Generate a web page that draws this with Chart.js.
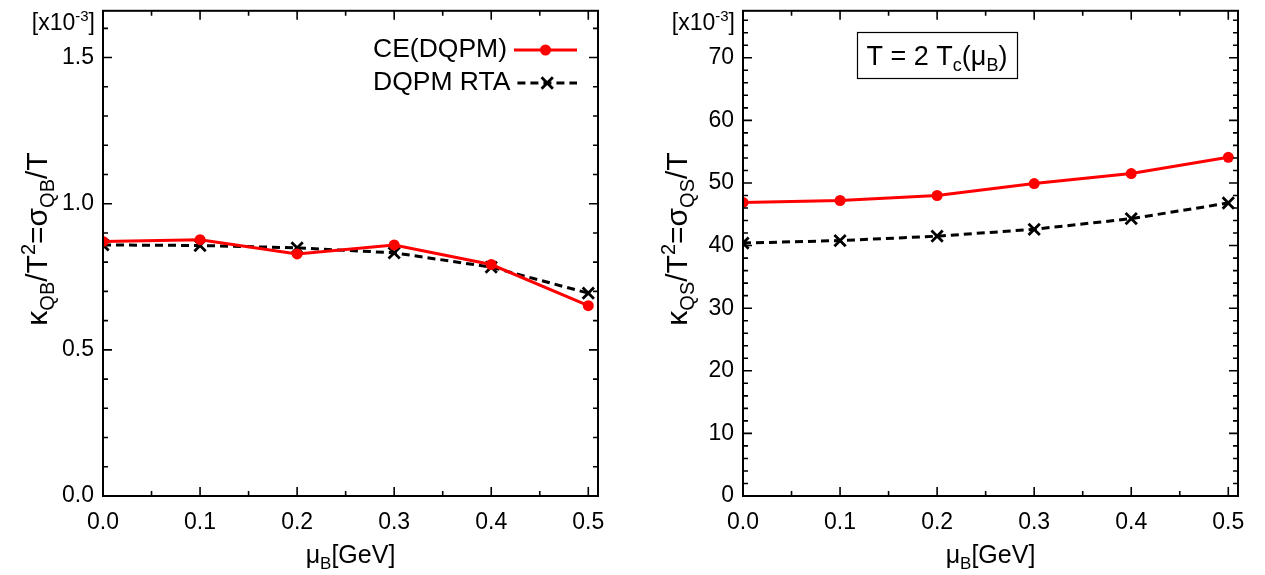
<!DOCTYPE html>
<html>
<head>
<meta charset="utf-8">
<script src="https://cdn.jsdelivr.net/npm/chart.js@4.4.1/dist/chart.umd.min.js"></script>
<style>
html, body { margin: 0; padding: 0; background: #fff; }
#wrap { position: relative; width: 1265px; height: 575px; }
.panel { position: absolute; top: 0; height: 575px; }
</style>
</head>
<body>
<div id="wrap">
  <div class="panel" style="left:0;width:632px"><canvas id="chartQB"></canvas></div>
  <div class="panel" style="left:632px;width:633px"><canvas id="chartQS"></canvas></div>
</div>
<script>
// 数据 (单位 10^-3)
const muB = [0.0, 0.1, 0.2, 0.3, 0.4, 0.5];
const ceQB = [0.871, 0.877, 0.828, 0.859, 0.792, 0.651];
const rtaQB = [0.859, 0.857, 0.849, 0.832, 0.783, 0.694];
const ceQS = [46.9, 47.2, 48.0, 49.9, 51.5, 54.1];
const rtaQS = [40.4, 40.8, 41.5, 42.6, 44.3, 46.8];

// 刻度
const xTicks = [0.0, 0.1, 0.2, 0.3, 0.4, 0.5];
const yTicksQB = [0.0, 0.5, 1.0, 1.5];
const yTicksQS = [0, 10, 20, 30, 40, 50, 60, 70];

const FONT = '"Liberation Sans", Arial, sans-serif';

function fnt(size) {
    return size + 'px ' + FONT;
}

// 画带上下标的文字, parts: [文字, 字号, 垂直偏移]
function drawRich(ctx, parts, x, y, align) {
    let w = 0;
    parts.forEach(p => { ctx.font = fnt(p[1]); w += ctx.measureText(p[0]).width; });
    let cx = align === 'center' ? x - w / 2 : (align === 'right' ? x - w : x);
    ctx.textAlign = 'left';
    ctx.textBaseline = 'alphabetic';
    parts.forEach(p => {
        ctx.font = fnt(p[1]);
        ctx.fillText(p[0], cx, y + (p[2] || 0));
        cx += ctx.measureText(p[0]).width;
    });
    return w;
}

function pairs(xs, ys) {
    return xs.map((x, i) => ({ x: x, y: ys[i] }));
}

// 边框 + 内向刻度 + 标题
const framePlugin = {
    id: 'frame',
    afterDatasetsDraw(chart, args, opts) {
        const ctx = chart.ctx;
        const a = chart.chartArea;
        const xs = chart.scales.x, ys = chart.scales.y;
        ctx.save();
        ctx.strokeStyle = '#000';
        ctx.fillStyle = '#000';
        ctx.lineWidth = 2;
        ctx.strokeRect(a.left, a.top, a.right - a.left, a.bottom - a.top);
        ctx.lineWidth = 1.6;
        ctx.beginPath();
        for (let i = 0; i <= 10; i++) {
            const px = xs.getPixelForValue(i * 0.05);
            const len = i % 2 === 0 ? 9 : 5;
            ctx.moveTo(px, a.bottom); ctx.lineTo(px, a.bottom - len);
            ctx.moveTo(px, a.top); ctx.lineTo(px, a.top + len);
        }
        for (let i = 0; i * opts.minor <= ys.max; i++) {
            const py = ys.getPixelForValue(i * opts.minor);
            const len = i % 5 === 0 ? 9 : 5;
            ctx.moveTo(a.left, py); ctx.lineTo(a.left + len, py);
            ctx.moveTo(a.right, py); ctx.lineTo(a.right - len, py);
        }
        ctx.stroke();

        // [x10^-3]
        drawRich(ctx, [['[x10', 23], ['-3', 15, -9], [']', 23]], a.left - 8, 30, 'right');

        // x 轴标题
        drawRich(ctx, [['\u03bc', 25], ['B', 17, 6], ['[GeV]', 25]], (a.left + a.right) / 2, 563, 'center');

        // y 轴标题
        ctx.save();
        ctx.translate(opts.titleX, 239);
        ctx.rotate(-Math.PI / 2);
        const s = opts.sub;
        drawRich(ctx, [['\u03ba', 30], [s, 20, 7], ['/T', 30], ['2', 20, -12], ['=\u03c3', 30], [s, 20, 7], ['/T', 30]], 0, 0, 'center');
        ctx.restore();
        ctx.restore();
    }
};

// 左图图例
const legendPlugin = {
    id: 'inLegend',
    afterDraw(chart) {
        const ctx = chart.ctx;
        ctx.save();
        const rows = [
            { text: 'CE(DQPM)', y: 50, ds: chart.data.datasets[0] },
            { text: 'DQPM RTA', y: 83, ds: chart.data.datasets[1] }
        ];
        rows.forEach(r => {
            ctx.fillStyle = '#000';
            ctx.font = fnt(26.5);
            ctx.textAlign = 'left';
            ctx.textBaseline = 'middle';
            ctx.fillText(r.text, 373, r.y);
            const x0 = 373 + ctx.measureText(r.text).width + 7;
            const x1 = 577;
            const cx = (x0 + x1) / 2;
            ctx.strokeStyle = r.ds.borderColor;
            ctx.lineWidth = r.ds.borderWidth;
            ctx.setLineDash(r.ds.borderDash || []);
            ctx.beginPath();
            ctx.moveTo(x0, r.y); ctx.lineTo(x1, r.y);
            ctx.stroke();
            ctx.setLineDash([]);
            ctx.fillStyle = r.ds.pointBackgroundColor;
            ctx.strokeStyle = r.ds.pointBorderColor;
            ctx.lineWidth = r.ds.pointBorderWidth;
            ctx.beginPath();
            if (r.ds.pointStyle === 'circle') {
                ctx.arc(cx, r.y, r.ds.pointRadius, 0, Math.PI * 2);
                ctx.fill();
            } else {
                const d = r.ds.pointRadius * Math.SQRT1_2;
                ctx.moveTo(cx - d, r.y - d); ctx.lineTo(cx + d, r.y + d);
                ctx.moveTo(cx - d, r.y + d); ctx.lineTo(cx + d, r.y - d);
                ctx.stroke();
            }
        });
        ctx.restore();
    }
};

// 右图文字框
const boxPlugin = {
    id: 'textBox',
    afterDraw(chart) {
        const ctx = chart.ctx;
        ctx.save();
        ctx.strokeStyle = '#000';
        ctx.lineWidth = 1.2;
        ctx.strokeRect(225.5, 32.5, 160, 46);
        ctx.fillStyle = '#000';
        drawRich(ctx, [['T = 2 T', 27], ['c', 18, 6], ['(\u03bc', 27], ['B', 18, 6], [')', 27]], 305, 65, 'center');
        ctx.restore();
    }
};

function makeChart(id, ce, rta, yTicks, yMax, digits, yWidth, padRight, extra, frameOpts) {
    return new Chart(document.getElementById(id), {
        type: 'line',
        data: {
            datasets: [{
                label: 'CE(DQPM)',
                data: pairs(muB, ce),
                borderColor: '#ff0000',
                backgroundColor: '#ff0000',
                borderWidth: 3,
                pointStyle: 'circle',
                pointRadius: 5.5,
                pointBorderWidth: 0,
                pointBackgroundColor: '#ff0000',
                pointBorderColor: '#ff0000'
            }, {
                label: 'DQPM RTA',
                data: pairs(muB, rta),
                borderColor: '#000000',
                backgroundColor: '#000000',
                borderWidth: 3,
                borderDash: [8, 5],
                pointStyle: 'crossRot',
                pointRadius: 8,
                pointBorderWidth: 2.8,
                pointBackgroundColor: '#000000',
                pointBorderColor: '#000000'
            }]
        },
        options: {
            responsive: true,
            maintainAspectRatio: false,
            animation: false,
            events: [],
            layout: { padding: { left: 0, top: 10, right: padRight, bottom: 0 } },
            plugins: {
                legend: { display: false },
                tooltip: { enabled: false },
                frame: frameOpts
            },
            scales: {
                x: {
                    type: 'linear',
                    min: 0,
                    max: 0.51,
                    grid: { display: false, drawTicks: false },
                    border: { display: false },
                    afterBuildTicks: s => { s.ticks = xTicks.map(v => ({ value: v })); },
                    afterFit: s => { s.height = 79; s.paddingLeft = 0; s.paddingRight = 0; },
                    ticks: {
                        padding: 13,
                        color: '#000',
                        font: { family: FONT, size: 23 },
                        maxRotation: 0,
                        autoSkip: false,
                        callback: v => v.toFixed(1)
                    }
                },
                y: {
                    type: 'linear',
                    min: 0,
                    max: yMax,
                    grid: { display: false, drawTicks: false },
                    border: { display: false },
                    afterBuildTicks: s => { s.ticks = yTicks.map(v => ({ value: v })); },
                    afterFit: s => { s.width = yWidth; s.paddingTop = 0; s.paddingBottom = 0; },
                    ticks: {
                        padding: 9,
                        color: '#000',
                        font: { family: FONT, size: 23 },
                        autoSkip: false,
                        callback: v => v.toFixed(digits)
                    }
                }
            }
        },
        plugins: [framePlugin, extra]
    });
}

makeChart('chartQB', ceQB, rtaQB, yTicksQB, 1.66, 1, 103, 34, legendPlugin,
    { minor: 0.1, sub: 'QB', titleX: 47 });
makeChart('chartQS', ceQS, rtaQS, yTicksQS, 77.5, 0, 111, 27, boxPlugin,
    { minor: 2, sub: 'QS', titleX: 55 });
</script>
</body>
</html>
